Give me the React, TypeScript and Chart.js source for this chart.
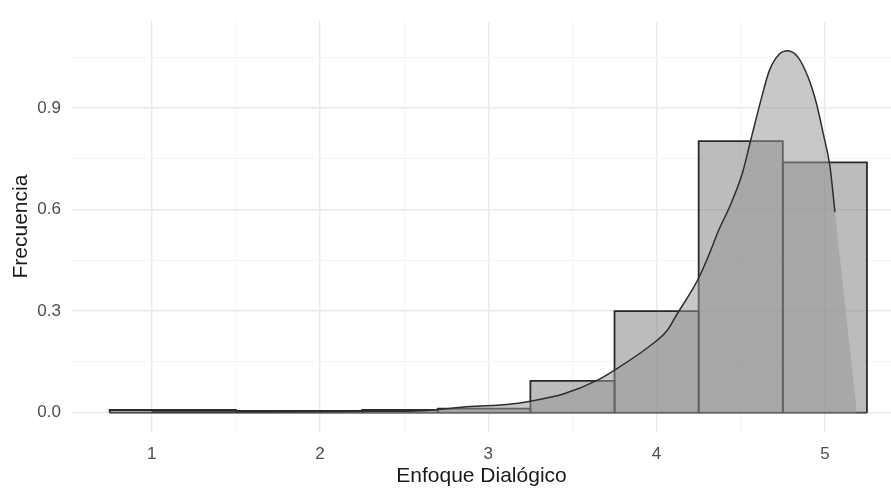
import React, { useEffect, useRef } from 'react';
import { Chart, registerables } from 'chart.js';

Chart.register(...registerables);

// Histogram (density scale)
const binEdges = [0.75, 1.5, 2.25, 2.7, 3.25, 3.75, 4.25, 4.75, 5.25];
const binHeights = [0.008, 0.005, 0.008, 0.012, 0.094, 0.3, 0.802, 0.739];

// Kernel density curve
const densityX = [1.0, 1.5, 2.0, 2.3, 2.6, 2.89, 3.11, 3.25, 3.45, 3.64, 3.76, 3.96, 4.06, 4.12, 4.22, 4.26, 4.31, 4.37, 4.44, 4.51, 4.56, 4.62, 4.67, 4.73, 4.78, 4.84, 4.9, 4.95, 4.99, 5.03, 5.06];
const densityY = [0.002, 0.002, 0.003, 0.004, 0.006, 0.018, 0.024, 0.034, 0.056, 0.094, 0.129, 0.197, 0.241, 0.29, 0.37, 0.408, 0.465, 0.54, 0.615, 0.708, 0.806, 0.923, 1.01, 1.059, 1.069, 1.05, 0.991, 0.913, 0.825, 0.728, 0.592];
// where the shaded density area closes onto the baseline
const densityFillEndX = [5.19];
const densityFillEndY = [0];

const xMajorTicks = [1, 2, 3, 4, 5];
const xMinorTicks = [1.5, 2.5, 3.5, 4.5];
const yMajorTicks = [0, 0.3, 0.6, 0.9];
const yMinorTicks = [0.15, 0.45, 0.75, 1.05];
const xRange = [0.526, 5.393];
const yRange = [-0.057, 1.156];

const xTitle = 'Enfoque Dialógico';
const yTitle = 'Frecuencia';

const FONT = "'Liberation Sans', Arial, sans-serif";

const isIn = (arr: number[], v: number) => arr.some((m) => Math.abs(m - v) < 1e-9);

export default function App() {
  const ref = useRef<HTMLCanvasElement | null>(null);

  useEffect(() => {
    if (!ref.current) return;

    const barDatasets = binHeights.map((h, i) => ({
      label: 'bin ' + i,
      data: [
        { x: binEdges[i], y: 0 },
        { x: binEdges[i], y: h },
        { x: binEdges[i + 1], y: h },
        { x: binEdges[i + 1], y: 0 },
      ],
      borderColor: '#2a2a2a',
      borderWidth: 1.8,
      backgroundColor: 'rgba(128,128,128,0.53)',
      pointRadius: 0,
      fill: 'origin',
      tension: 0,
      order: 3,
    }));

    const baseline = {
      label: 'bar bottoms',
      data: [
        { x: binEdges[0], y: 0 },
        { x: binEdges[binEdges.length - 1], y: 0 },
      ],
      borderColor: '#2a2a2a',
      borderWidth: 1.8,
      pointRadius: 0,
      fill: false,
      order: 3,
    };

    const densPoints = densityX.map((x, i) => ({ x, y: densityY[i] }));
    const fillPoints = densPoints.concat(densityFillEndX.map((x, i) => ({ x, y: densityFillEndY[i] })));

    const gridColor = (ctx: any, majors: number[]) => {
      const v = ctx.tick ? ctx.tick.value : 0;
      return isIn(majors, v) ? '#e9e9e9' : '#f4f4f4';
    };
    const gridWidth = (ctx: any, majors: number[]) => {
      const v = ctx.tick ? ctx.tick.value : 0;
      return isIn(majors, v) ? 1.4 : 1.1;
    };

    const chart = new Chart(ref.current, {
      type: 'line',
      data: {
        datasets: [
          {
            label: 'density line',
            data: densPoints,
            borderColor: '#2e2e2e',
            borderWidth: 1.5,
            pointRadius: 0,
            fill: false,
            cubicInterpolationMode: 'monotone',
            order: 1,
          },
          {
            label: 'density area',
            data: fillPoints,
            borderWidth: 0,
            borderColor: 'rgba(0,0,0,0)',
            backgroundColor: 'rgba(150,150,150,0.52)',
            pointRadius: 0,
            fill: 'origin',
            cubicInterpolationMode: 'monotone',
            order: 2,
          },
          ...barDatasets,
          baseline,
        ] as any,
      },
      options: {
        animation: false,
        responsive: false,
        maintainAspectRatio: false,
        layout: { padding: { top: 17, right: 0, bottom: 0, left: 0 } },
        plugins: { legend: { display: false }, tooltip: { enabled: false } },
        scales: {
          x: {
            type: 'linear',
            min: xRange[0],
            max: xRange[1],
            afterBuildTicks: (scale: any) => {
              scale.ticks = [...xMajorTicks, ...xMinorTicks].sort((a, b) => a - b).map((v) => ({ value: v }));
            },
            afterFit: (scale: any) => {
              scale.height = 58;
            },
            border: { display: false },
            grid: {
              drawTicks: false,
              color: (ctx: any) => gridColor(ctx, xMajorTicks),
              lineWidth: (ctx: any) => gridWidth(ctx, xMajorTicks),
            },
            ticks: {
              autoSkip: false,
              maxRotation: 0,
              padding: 12,
              color: '#4d4d4d',
              font: { family: FONT, size: 17 },
              callback: (v: any) => (isIn(xMajorTicks, Number(v)) ? String(v) : ''),
            },
            title: {
              display: true,
              text: xTitle,
              color: '#1a1a1a',
              font: { family: FONT, size: 21 },
              padding: { top: 0, bottom: 1 },
            },
          },
          y: {
            type: 'linear',
            min: yRange[0],
            max: yRange[1],
            afterBuildTicks: (scale: any) => {
              scale.ticks = [...yMajorTicks, ...yMinorTicks].sort((a, b) => a - b).map((v) => ({ value: v }));
            },
            afterFit: (scale: any) => {
              scale.width = 72;
            },
            border: { display: false },
            grid: {
              drawTicks: false,
              color: (ctx: any) => gridColor(ctx, yMajorTicks),
              lineWidth: (ctx: any) => gridWidth(ctx, yMajorTicks),
            },
            ticks: {
              autoSkip: false,
              padding: 11,
              color: '#4d4d4d',
              font: { family: FONT, size: 17 },
              callback: (v: any) => (isIn(yMajorTicks, Number(v)) ? Number(v).toFixed(1) : ''),
            },
            title: {
              display: true,
              text: yTitle,
              color: '#1a1a1a',
              font: { family: FONT, size: 21 },
              padding: { top: 9, bottom: 0 },
            },
          },
        },
      } as any,
    });

    return () => chart.destroy();
  }, []);

  return (
    <div style={{ position: 'fixed', left: 0, top: 0, width: 891, height: 490, background: '#ffffff' }}>
      <canvas ref={ref} width={891} height={490} style={{ display: 'block', width: 891, height: 490 }} />
    </div>
  );
}
